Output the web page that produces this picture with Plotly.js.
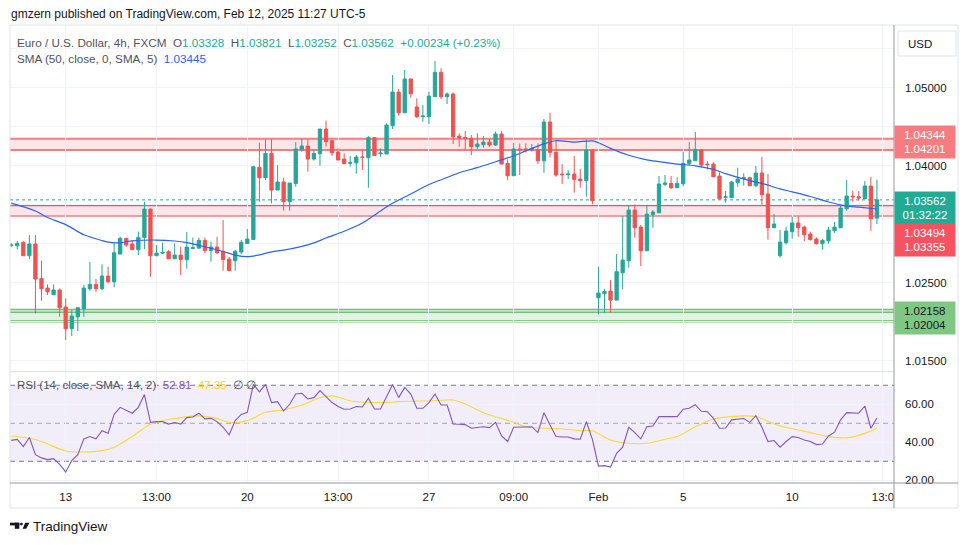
<!DOCTYPE html>
<html><head><meta charset="utf-8">
<script src="https://cdn.plot.ly/plotly-3.0.1.min.js"></script>
<style>html,body{margin:0;padding:0;background:#fff;}#chart{width:970px;height:545px;}</style>
</head><body><div id="chart"></div>
<script>
// ---- Candle data (EUR/USD 4h, FXCM) ----
const opens = [1.02974,1.02974,1.03017,1.02846,1.02996,1.02555,1.02431,1.02346,1.02406,1.02188,
1.01910,1.02064,1.02166,1.02423,1.02478,1.02423,1.02585,1.02513,1.02867,1.03068,
1.02996,1.02923,1.03081,1.03444,1.02846,1.02880,1.02897,1.02807,1.02854,1.02795,
1.02940,1.02944,1.03043,1.02914,1.02957,1.02902,1.02803,1.02782,1.02893,1.03004,
1.03055,1.03979,1.03846,1.04158,1.03688,1.03791,1.03538,1.03773,1.04205,1.04252,
1.04085,1.04154,1.04470,1.04320,1.04175,1.04085,1.04030,1.04038,1.04111,1.04103,
1.04359,1.04154,1.04150,1.04513,1.04944,1.04679,1.05111,1.04752,1.04628,1.04628,
1.04885,1.05197,1.04885,1.04919,1.04380,1.04363,1.04350,1.04244,1.04269,1.04303,
1.04265,1.04406,1.04030,1.03872,1.04214,1.04214,1.04201,1.04205,1.04064,1.04560,
1.04171,1.03893,1.03885,1.03893,1.03829,1.03808,1.04201,1.02307,1.02359,1.02393,
1.02277,1.02628,1.02782,1.03431,1.03213,1.02910,1.03372,1.03397,1.03761,1.03773,
1.03718,1.03769,1.04030,1.04064,1.04201,1.04021,1.04021,1.03867,1.03594,1.03590,
1.03782,1.03838,1.03846,1.03743,1.03906,1.03637,1.03205,1.02846,1.03013,1.03154,
1.03265,1.03213,1.03124,1.03060,1.03000,1.03038,1.03167,1.03205,1.03449,1.03611,
1.03602,1.03577,1.03739,1.03328];
const highs = [1.03004,1.03034,1.03034,1.03111,1.03111,1.02782,1.02478,1.02478,1.02427,1.02299,
1.02149,1.02179,1.02470,1.02765,1.02547,1.02735,1.02705,1.03004,1.03090,1.03068,
1.03038,1.03154,1.03538,1.03449,1.02983,1.03013,1.02919,1.03004,1.02961,1.03149,
1.03077,1.03077,1.03081,1.03025,1.03090,1.03303,1.02833,1.02919,1.03047,1.03188,
1.04000,1.04295,1.04338,1.04338,1.04008,1.03846,1.03778,1.04303,1.04350,1.04338,
1.04209,1.04470,1.04577,1.04329,1.04222,1.04158,1.04124,1.04137,1.04201,1.04380,
1.04359,1.04222,1.04543,1.05162,1.04983,1.05227,1.05120,1.04863,1.04778,1.04949,
1.05342,1.05248,1.04940,1.04936,1.04414,1.04444,1.04393,1.04414,1.04380,1.04342,
1.04436,1.04444,1.04081,1.04291,1.04286,1.04286,1.04278,1.04286,1.04598,1.04679,
1.04329,1.04021,1.03944,1.04124,1.03957,1.04338,1.04214,1.02705,1.02418,1.02534,
1.02867,1.03355,1.03487,1.03504,1.03239,1.03487,1.03431,1.03867,1.03880,1.03867,
1.03850,1.04175,1.04303,1.04432,1.04214,1.04060,1.04043,1.03914,1.03675,1.03803,
1.03974,1.03902,1.03859,1.03996,1.04115,1.03893,1.03380,1.03175,1.03218,1.03346,
1.03350,1.03231,1.03154,1.03081,1.03060,1.03213,1.03278,1.03496,1.03816,1.03680,
1.03675,1.03803,1.03855,1.03821];
const lows = [1.02961,1.02927,1.02846,1.02803,1.02107,1.02269,1.02342,1.02346,1.02064,1.01765,
1.01816,1.01880,1.02064,1.02397,1.02384,1.02406,1.02491,1.02440,1.02867,1.02961,
1.02919,1.02854,1.02931,1.02577,1.02846,1.02867,1.02807,1.02807,1.02598,1.02679,
1.02931,1.02931,1.02876,1.02769,1.02867,1.02654,1.02654,1.02654,1.02867,1.02996,
1.03055,1.03538,1.03816,1.03517,1.03688,1.03423,1.03423,1.03731,1.04179,1.03923,
1.04064,1.04000,1.04244,1.04124,1.04073,1.04026,1.03987,1.03897,1.03944,1.03718,
1.04124,1.04115,1.04150,1.04470,1.04641,1.04679,1.04872,1.04611,1.04564,1.04534,
1.04885,1.04855,1.04791,1.04278,1.04244,1.04201,1.04137,1.04214,1.04231,1.04244,
1.04252,1.04021,1.03816,1.03872,1.03880,1.04171,1.04179,1.04021,1.03910,1.04107,
1.03859,1.03765,1.03829,1.03654,1.03718,1.03602,1.03504,1.02094,1.02115,1.02115,
1.02277,1.02418,1.02692,1.03077,1.02713,1.02910,1.03205,1.03397,1.03739,1.03701,
1.03718,1.03739,1.04004,1.04064,1.03979,1.03953,1.03859,1.03568,1.03526,1.03590,
1.03731,1.03743,1.03743,1.03731,1.03500,1.03051,1.03205,1.02820,1.02991,1.03064,
1.03090,1.03034,1.03043,1.02991,1.02923,1.03000,1.03141,1.03205,1.03423,1.03538,
1.03551,1.03577,1.03167,1.03252];
const closes = [1.02983,1.03004,1.02846,1.02996,1.02547,1.02423,1.02384,1.02406,1.02179,1.01910,
1.02072,1.02179,1.02431,1.02478,1.02423,1.02585,1.02513,1.02884,1.03068,1.02983,
1.02923,1.03081,1.03444,1.02846,1.02880,1.02889,1.02807,1.02854,1.02799,1.02957,
1.02949,1.03043,1.02914,1.02957,1.02884,1.02799,1.02654,1.02902,1.03017,1.03060,
1.03987,1.03846,1.04158,1.03688,1.03791,1.03538,1.03778,1.04214,1.04252,1.04085,
1.04158,1.04470,1.04308,1.04167,1.04073,1.04026,1.04043,1.04111,1.04107,1.04359,
1.04132,1.04162,1.04521,1.04944,1.04679,1.05111,1.04923,1.04628,1.04637,1.04893,
1.05197,1.04885,1.04919,1.04372,1.04359,1.04350,1.04244,1.04278,1.04303,1.04265,
1.04406,1.04021,1.03872,1.04214,1.04205,1.04209,1.04222,1.04064,1.04560,1.04171,
1.03880,1.03885,1.03893,1.03825,1.03808,1.04201,1.03551,1.02367,1.02389,1.02277,
1.02641,1.02790,1.03431,1.03205,1.02910,1.03380,1.03406,1.03765,1.03778,1.03718,
1.03773,1.04030,1.04073,1.04209,1.04008,1.04013,1.03859,1.03577,1.03602,1.03791,
1.03829,1.03846,1.03743,1.03906,1.03628,1.03205,1.03252,1.03021,1.03162,1.03265,
1.03205,1.03115,1.03051,1.03000,1.03043,1.03175,1.03213,1.03457,1.03611,1.03602,
1.03585,1.03739,1.03320,1.03562];

// ---- SMA(50) at selected candles ----
const smaIdx = [0,4,6,9,12,15,16,18,20,24,27,29,32,35,37,39,41,43,45,48,50,52,55,58,61,63,66,69,72,74,77,80,83,85,88,90,93,96,97,99,102,105,107,110,113,116,118,122,124,127,129,132,135,138,140,143];
const smaVals = [1.03520,1.03420,1.03335,1.03245,1.03115,1.03040,1.03020,1.03013,1.03037,1.03047,1.03035,1.03015,1.02961,1.02900,1.02854,1.02834,1.02857,1.02896,1.02917,1.02966,1.03010,1.03073,1.03159,1.03265,1.03420,1.03518,1.03637,1.03760,1.03848,1.03910,1.03975,1.04050,1.04125,1.04190,1.04280,1.04320,1.04303,1.04318,1.04295,1.04222,1.04134,1.04075,1.04053,1.04021,1.03998,1.03952,1.03898,1.03808,1.03773,1.03703,1.03665,1.03605,1.03535,1.03483,1.03468,1.03445];

// ---- RSI(14) per candle ----
const rsiVals = [41.0,41.5,37.7,42.5,33.5,31.8,30.9,31.4,28.4,24.4,
30.4,33.5,41.8,43.0,41.8,46.1,44.7,54.7,58.4,56.7,
55.3,58.4,65.1,50.5,50.9,50.9,49.6,50.4,49.6,53.0,
53.3,55.3,52.3,52.6,50.9,47.9,43.9,51.4,54.7,55.8,
70.5,66.5,70.5,60.9,61.4,56.5,60.0,65.4,65.8,62.8,
63.5,67.2,64.0,60.9,58.8,57.4,57.5,58.8,58.6,63.2,
57.5,57.5,64.0,70.4,63.5,68.9,65.4,57.9,57.9,60.9,
65.4,59.6,59.6,49.6,49.5,49.3,47.4,47.9,48.2,47.7,
50.5,43.3,40.4,47.9,47.9,47.9,48.2,45.1,55.6,49.1,
43.0,42.8,42.8,41.8,41.6,50.9,41.5,27.5,27.7,27.0,
34.2,37.4,47.9,45.1,41.8,48.2,48.6,53.5,53.5,53.2,
53.5,57.4,57.9,59.8,56.3,56.1,52.6,47.4,47.5,51.8,
52.1,52.5,50.5,54.0,47.9,40.4,40.9,37.4,40.4,43.0,
42.5,41.2,40.4,38.8,39.1,43.3,45.3,51.8,55.6,55.6,
55.3,59.1,47.4,52.81];
// ---- RSI-based SMA(14) read at selected candles ----
const rsiMaIdx = [0,4,6,9,12,15,17,20,23,26,28,31,34,36,39,42,45,48,51,53,56,59,62,64,70,73,75,78,83,85,88,91,94,96,99,102,105,108,110,113,116,119,121,123,127,130,132,135,138,141,143];
const rsiMaVals = [43.3,41.5,39.1,35.4,34.9,35.6,37.4,43.1,49.5,52.0,53.0,53.9,52.6,50.5,51.4,55.8,57.0,59.6,63.4,64.4,61.9,61.0,61.0,61.4,61.9,62.3,60.2,55.6,50.5,48.2,47.4,47.0,46.1,46.1,41.2,39.5,39.5,41.6,43.0,48.2,52.3,53.5,53.9,53.5,48.6,46.5,45.1,43.0,42.3,44.7,47.35];

// ---- Axis ticks ----
const xTickIdx = [9,24,39,54,69,83,97,111,129,144];
const xTickText = ["13","13:00","20","13:00","27","09:00","Feb","5","10","13:0"];
const priceTicks = [1.015,1.020,1.025,1.030,1.035,1.040,1.045,1.050,1.055];
// labels hidden behind the price tags in the reference are left blank
const priceTickText = ["1.01500","","1.02500","","","1.04000","","1.05000",""];
const rsiTicks = [20,40,60];

// ---- Drawn levels ----
const upperBand = [1.04201,1.04344];
const lowerBand = [1.03355,1.03494];
const greenBand = [1.02004,1.02158];
const greenInner = 1.02122;
const lastPrice = 1.03562;
const rsiLevels = [30,50,70];

const candleIdx = opens.map((_, i) => i);
const FONT = 'Liberation Sans, Arial, sans-serif';
const px = x => (x - 10) / 884;
const py = y => (483 - y) / 458;
const TEAL = '#26a69a', RED = '#ef5350';

const data = [
  {type:'candlestick', x:candleIdx, open:opens, high:highs, low:lows, close:closes,
   xaxis:'x', yaxis:'y', whiskerwidth:0,
   increasing:{line:{color:TEAL,width:1}, fillcolor:TEAL},
   decreasing:{line:{color:RED,width:1}, fillcolor:RED},
   hoverinfo:'skip', showlegend:false},
  {type:'scatter', mode:'lines', x:smaIdx, y:smaVals, xaxis:'x', yaxis:'y',
   line:{color:'#2962ff', width:1.2, shape:'spline', smoothing:0.8}, hoverinfo:'skip', showlegend:false},
  {type:'scatter', mode:'lines', x:rsiMaIdx, y:rsiMaVals, xaxis:'x', yaxis:'y2',
   line:{color:'#fdd835', width:1.1, shape:'spline', smoothing:0.8}, hoverinfo:'skip', showlegend:false},
  {type:'scatter', mode:'lines', x:candleIdx, y:rsiVals, xaxis:'x', yaxis:'y2',
   line:{color:'#7e57c2', width:1.1}, hoverinfo:'skip', showlegend:false}
];

const hline = (yref, y, color, width, dash, layer) => ({type:'line', xref:'paper', x0:0, x1:1, yref:yref, y0:y, y1:y,
  line:{color:color, width:width, dash:dash||'solid'}, layer:layer||'between'});
const pline = (x0,y0,x1,y1,color,width) => ({type:'line', xref:'paper', yref:'paper', x0:px(x0), x1:px(x1), y0:py(y0), y1:py(y1), line:{color:color,width:width}, layer:'above'});

const shapes = [
  {type:'rect', xref:'paper', x0:0, x1:1, yref:'y', y0:upperBand[0], y1:upperBand[1], fillcolor:'rgba(247,82,95,0.15)', line:{width:0}, layer:'between'},
  {type:'rect', xref:'paper', x0:0, x1:1, yref:'y', y0:lowerBand[0], y1:lowerBand[1], fillcolor:'rgba(247,82,95,0.15)', line:{width:0}, layer:'between'},
  {type:'rect', xref:'paper', x0:0, x1:1, yref:'y', y0:greenBand[0], y1:greenBand[1], fillcolor:'rgba(76,175,80,0.16)', line:{width:0}, layer:'between'},
  hline('y', upperBand[1], '#f77c80', 2),
  hline('y', upperBand[0], '#f77c80', 2),
  hline('y', lowerBand[1], '#f0525e', 2),
  hline('y', lowerBand[0], '#f77c80', 1.5),
  hline('y', greenBand[1], '#6fc173', 1.5),
  hline('y', greenInner, '#6fc173', 1.5),
  hline('y', greenBand[0], '#66bb6a', 2.2),
  hline('y', lastPrice, '#22ab94', 1, 'dot'),
  {type:'rect', xref:'paper', x0:0, x1:1, yref:'y2', y0:rsiLevels[0], y1:rsiLevels[2], fillcolor:'rgba(126,87,194,0.1)', line:{width:0}, layer:'between'},
  hline('y2', rsiLevels[2], '#787b86', 1, '5px,4px'),
  hline('y2', rsiLevels[1], '#a3a6af', 1, '5px,4px'),
  hline('y2', rsiLevels[0], '#787b86', 1, '5px,4px'),
  // frame and separators
  pline(10,25,958,25,'#e0e3eb',1),
  pline(10,25,10,508,'#e0e3eb',1),
  pline(958,25,958,508,'#e0e3eb',1),
  pline(10,508,958,508,'#e0e3eb',1),
  pline(10,371.5,894,371.5,'#e0e3eb',1),
  {type:'rect', xref:'paper', yref:'paper', x0:px(895), x1:px(957), y0:py(484), y1:py(493), fillcolor:'#ffffff', line:{width:0}, layer:'above'},
  pline(894,25,894,508,'#9598a1',1),
  pline(10,483,958,483,'#9598a1',1),
  // USD button
  {type:'rect', xref:'paper', yref:'paper', x0:px(898), x1:px(956), y0:py(31), y1:py(56), fillcolor:'#ffffff', line:{color:'#e0e3eb',width:1}, layer:'above'},
  // TradingView logo
  {type:'rect', xref:'paper', yref:'paper', x0:px(10), x1:px(19.3), y0:py(522.7), y1:py(525.4), fillcolor:'#131722', line:{width:0}, layer:'above'},
  {type:'rect', xref:'paper', yref:'paper', x0:px(14.8), x1:px(19.3), y0:py(522.7), y1:py(528.8), fillcolor:'#131722', line:{width:0}, layer:'above'},
  {type:'circle', xref:'paper', yref:'paper', x0:px(20), x1:px(22.8), y0:py(522.7), y1:py(525.5), fillcolor:'#131722', line:{width:0}, layer:'above'},
  {type:'path', xref:'paper', yref:'paper', layer:'above', fillcolor:'#131722', line:{width:0},
   path:'M'+px(25.2)+','+py(522.7)+' L'+px(29.4)+','+py(522.7)+' L'+px(26.2)+','+py(528.8)+' L'+px(22.6)+','+py(528.8)+' Z'}
];

const teal = '#22ab94';
const sp = '\u00a0';
const c = (col, t) => "<span style='color:" + col + "'>" + t + "</span>";
const lbl = (t, y, bg, fc) => ({xref:'paper', yref:'paper', x:px(925), y:py(y), xanchor:'center', yanchor:'middle',
  text:t, showarrow:false, bgcolor:bg, width:60, height:32, borderpad:0, font:{family:FONT, size:11.5, color:fc||'#ffffff'}});

const annotations = [
  {xref:'paper', yref:'paper', x:px(9), y:py(14), xanchor:'left', yanchor:'middle', showarrow:false,
   text:'gmzern published on TradingView.com, Feb 12, 2025 11:27 UTC-5', font:{family:FONT, size:12, color:'#131722'}},
  {xref:'paper', yref:'paper', x:px(15), y:py(42.3), xanchor:'left', yanchor:'middle', showarrow:false,
   text:'Euro / U.S. Dollar, 4h, FXCM' + sp + sp + 'O' + c(teal,'1.03328') + sp + sp + 'H' + c(teal,'1.03821') + sp + sp + 'L' + c(teal,'1.03252') + sp + sp + 'C' + c(teal,'1.03562') + sp + sp + c(teal,'+0.00234 (+0.23%)'),
   font:{family:FONT, size:11.7, color:'#50535e'}},
  {xref:'paper', yref:'paper', x:px(15), y:py(59), xanchor:'left', yanchor:'middle', showarrow:false,
   text:'SMA (50, close, 0, SMA, 5)' + sp + sp + c('#2962ff','1.03445'), font:{family:FONT, size:11.7, color:'#50535e'}},
  {xref:'paper', yref:'paper', x:px(15), y:py(385), xanchor:'left', yanchor:'middle', showarrow:false,
   text:'RSI (14, close, SMA, 14, 2)' + sp + sp + c('#7e57c2','52.81') + sp + sp + c('#f5d327','47.35') + sp + sp + '\u2205\u00a0\u2205',
   font:{family:FONT, size:11.5, color:'#50535e'}},
  {xref:'paper', yref:'paper', x:px(906), y:py(44), xanchor:'left', yanchor:'middle', showarrow:false,
   text:'USD', font:{family:FONT, size:11.5, color:'#131722'}},
  lbl('1.04344<br>1.04201', 141.9, '#f77c80'),
  lbl('1.03562<br>01:32:22', 207.5, '#22ab94'),
  lbl('1.03494<br>1.03355', 240, '#f7525f'),
  lbl('1.02158<br>1.02004', 318, '#81c784', '#131722'),
  {xref:'paper', yref:'paper', x:px(30.5), y:py(526.5), xanchor:'left', yanchor:'middle', showarrow:false,
   text:'TradingView', font:{family:FONT, size:13.5, color:'#131722'}}
];

const layout = {
  width:970, height:545,
  margin:{l:10, r:76, t:25, b:62},
  paper_bgcolor:'#ffffff', plot_bgcolor:'#ffffff',
  font:{family:FONT, color:'#131722', size:11.5},
  showlegend:false, hovermode:false, dragmode:false,
  boxgap:0.22,
  xaxis:{domain:[0,1], range:[-0.2,145.82], anchor:'y2', tickmode:'array', tickvals:xTickIdx, ticktext:xTickText,
    showgrid:true, gridcolor:'#f0f3fa', gridwidth:1, zeroline:false, showline:false, ticks:'',
    ticklabelstandoff:5, tickfont:{family:FONT, size:11.5, color:'#131722'}, rangeslider:{visible:false}, automargin:false, fixedrange:true},
  yaxis:{domain:[0.2445,1], range:[1.013679,1.058038], side:'right', anchor:'x', tickmode:'array', tickvals:priceTicks,
    ticktext:priceTickText, showgrid:true, gridcolor:'#f0f3fa', zeroline:false, showline:false, ticks:'',
    ticklabelstandoff:10, tickfont:{family:FONT, size:11.5, color:'#131722'}, automargin:false, fixedrange:true},
  yaxis2:{domain:[0,0.2424], range:[18.58,77.0], side:'right', anchor:'x', tickmode:'array', tickvals:rsiTicks,
    tickformat:'.2f', showgrid:true, gridcolor:'#f0f3fa', zeroline:false, showline:false, ticks:'',
    ticklabelstandoff:10, tickfont:{family:FONT, size:11.5, color:'#131722'}, automargin:false, fixedrange:true},
  shapes:shapes,
  annotations:annotations
};

Plotly.newPlot('chart', data, layout, {staticPlot:true, displayModeBar:false});
</script>
</body></html>
